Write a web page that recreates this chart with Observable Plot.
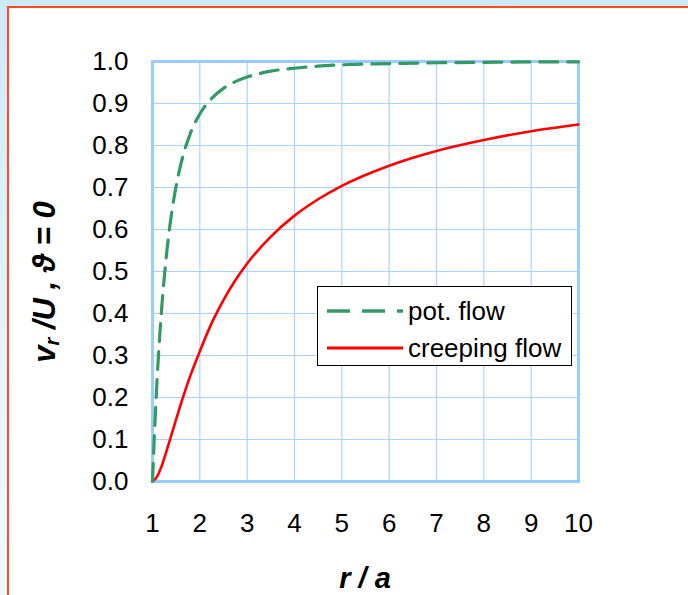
<!DOCTYPE html>
<html>
<head>
<meta charset="utf-8">
<script src="https://cdn.jsdelivr.net/npm/d3@7"></script>
<script src="https://cdn.jsdelivr.net/npm/@observablehq/plot@0.6"></script>
<style>
  html, body { margin: 0; padding: 0; }
  body { width: 688px; height: 595px; position: relative; overflow: hidden;
         background: linear-gradient(180deg, #cde9fb 0%, #e6f4fd 60%, #f2f9fe 100%);
         font-family: "Liberation Sans", Arial, sans-serif; }
  #panel { position: absolute; left: 7px; top: 6px; width: 700px; height: 620px;
           background: #fff; border: 2px solid #ff4a22; }
  #chart { position: absolute; left: 0; top: 0; }
  #chart svg text { font-size: 26px !important; font-family: "Liberation Sans", Arial, sans-serif; fill: #000; }
  #ylab { position: absolute; left: 45px; top: 282px; transform: translate(-50%, -50%) rotate(-90deg);
          white-space: nowrap; font-weight: bold; font-style: italic; font-size: 31px; color: #000; }
  #ylab sub { font-size: 20px; vertical-align: -4px; }
  #xlab { position: absolute; left: 365px; top: 578px; transform: translate(-50%, -50%);
          white-space: nowrap; font-weight: bold; font-style: italic; font-size: 29px; }
  #legend { position: absolute; left: 317px; top: 286px; width: 255px; height: 80px;
            background: #fff; border: 1px solid #000; box-sizing: border-box; }
  .lrow { position: absolute; left: 0; height: 32px; display: flex; align-items: center; font-size: 26px; }
  .lrow svg { margin-left: 9px; margin-right: 5px; }
</style>
</head>
<body>
<div id="panel"></div>
<div id="chart"></div>
<div id="ylab">v<sub>r</sub> /U , ϑ = 0</div>
<div id="xlab">r / a</div>
<div id="legend">
  <div class="lrow" style="top:8px">
    <svg width="76" height="10"><line x1="0" y1="5" x2="76" y2="5" stroke="#339966" stroke-width="3.5" stroke-dasharray="23,12"/></svg>
    <span>pot. flow</span>
  </div>
  <div class="lrow" style="top:45px">
    <svg width="76" height="10"><line x1="0" y1="5" x2="76" y2="5" stroke="#ff0000" stroke-width="3"/></svg>
    <span>creeping flow</span>
  </div>
</div>
<script>
const xTicks = [1, 2, 3, 4, 5, 6, 7, 8, 9, 10];
const yTicks = [0, 0.1, 0.2, 0.3, 0.4, 0.5, 0.6, 0.7, 0.8, 0.9, 1.0];

const potR = [1, 1.05, 1.1, 1.15, 1.2, 1.3, 1.4, 1.5, 1.6, 1.8, 2, 2.25, 2.5, 2.75, 3, 3.5, 4, 4.5, 5, 6, 7, 8, 9, 10];
const potV = [0, 0.136, 0.249, 0.343, 0.421, 0.545, 0.636, 0.704, 0.756, 0.829, 0.875, 0.912, 0.936, 0.952, 0.963, 0.977, 0.984, 0.989, 0.992, 0.995, 0.997, 0.998, 0.999, 0.999];

const creepR = [1, 1.1, 1.2, 1.3, 1.4, 1.6, 1.8, 2, 2.25, 2.5, 2.75, 3, 3.5, 4, 4.5, 5, 6, 7, 8, 9, 10];
const creepV = [0, 0.012, 0.039, 0.074, 0.111, 0.185, 0.252, 0.31, 0.377, 0.432, 0.479, 0.519, 0.583, 0.633, 0.672, 0.704, 0.752, 0.787, 0.813, 0.834, 0.85];

const pot = potR.map((r, i) => ({r, v: potV[i]}));
const creep = creepR.map((r, i) => ({r, v: creepV[i]}));

const chart = Plot.plot({
  width: 688,
  height: 595,
  marginLeft: 152,
  marginRight: 110,
  marginTop: 61,
  marginBottom: 114,
  style: { background: "transparent", fontFamily: "'Liberation Sans', Arial, sans-serif", fontSize: "26px", color: "#000" },
  x: { domain: [1, 10], ticks: xTicks, label: null },
  y: { domain: [0, 1], ticks: yTicks, label: null },
  marks: [
    Plot.gridX(xTicks, { stroke: "#a9d3fb", strokeOpacity: 1, strokeWidth: 1.2 }),
    Plot.gridY(yTicks, { stroke: "#a9d3fb", strokeOpacity: 1, strokeWidth: 1.2 }),
    Plot.axisX(xTicks, { tickSize: 0, tickPadding: 32, fontSize: 26, tickFormat: d => String(d) }),
    Plot.axisY(yTicks, { tickSize: 0, tickPadding: 24, fontSize: 26, tickFormat: d => d.toFixed(1) }),
    Plot.frame({ stroke: "#99ccff", strokeWidth: 3 }),
    Plot.line(creep, { x: "r", y: "v", stroke: "#ff0000", strokeWidth: 2.6, curve: "monotone-x" }),
    Plot.line(pot, { x: "r", y: "v", stroke: "#339966", strokeWidth: 3.2, strokeDasharray: "18,10", curve: "monotone-x" })
  ]
});
document.getElementById("chart").appendChild(chart);
</script>
</body>
</html>
